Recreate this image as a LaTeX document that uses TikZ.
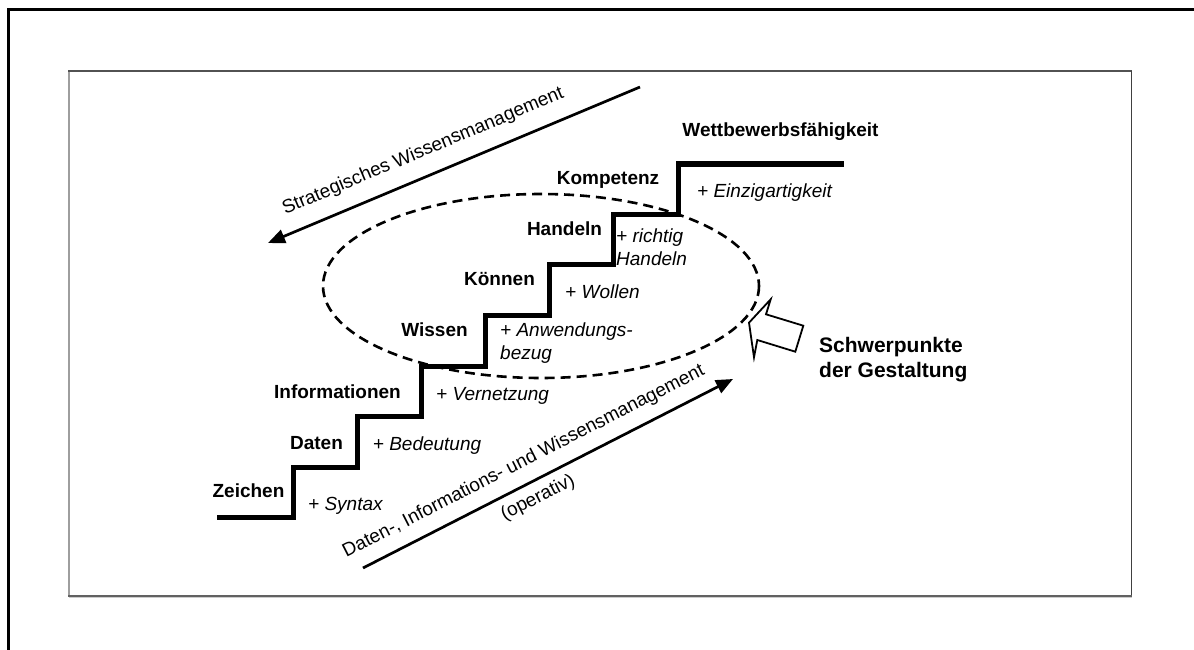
\documentclass[tikz,border=0pt]{standalone}
\usepackage{fontspec}
\setmainfont{Liberation Sans}
\usetikzlibrary{arrows.meta}

\begin{document}
\begin{tikzpicture}[x=1pt,y=-1pt,
  stair/.style={line width=5pt, line join=miter},
  flow/.style={line width=2.7pt, -{Triangle[length=17pt,width=14pt]}},
  level/.style={font=\fontsize{19}{23}\selectfont\bfseries, anchor=base, inner sep=0pt},
  gain/.style={font=\fontsize{19}{23}\selectfont\itshape, anchor=base west, inner sep=0pt},
  flowtext/.style={font=\fontsize{19}{23}\selectfont, inner sep=0pt},
  focus/.style={font=\fontsize{21}{25}\selectfont\bfseries, anchor=base west, inner sep=0pt},
  zone/.style={line width=2.6pt, dash pattern=on 10pt off 6pt},
  pointer/.style={line width=1.8pt, fill=white, line join=miter}
]
\useasboundingbox (0,0) rectangle (1194,650);

% outer frame (only left and top edges fall inside the page)
\draw[line width=3pt] (8.5,650) -- (8.5,9.3) -- (1194,9.3);

% inner panel with shaded edges
\draw[line width=2pt, color=black!38] (68.7,71) -- (68.7,596);
\draw[line width=1.5pt, color=black!68] (68,71) -- (1131.5,71);
\draw[line width=1.5pt, color=black!75] (1131.5,71) -- (1131.5,596);
\draw[line width=1.5pt, color=black!20] (69,597.6) -- (1132,597.6);
\draw[line width=1.3pt, color=black!62] (68,595.9) -- (1132.2,595.9);

% focus zone
\draw[zone] (541,286) ellipse [x radius=218, y radius=92];

% staircase
\draw[stair] (217,517) -- (293,517) -- (293,467) -- (357,467) -- (357,416)
  -- (421,416) -- (421,366) -- (485,366) -- (485,315) -- (549,315)
  -- (549,264) -- (613,264) -- (613,214) -- (678,214) -- (678,164) -- (844,164);

% step names
\node[level] (zeichen) at (248.5,497) {Zeichen};
\node[level] (daten) at (316.5,449) {Daten};
\node[level] (info) at (337.5,398) {Informationen};
\node[level] (wissen) at (434.5,336) {Wissen};
\node[level] (koennen) at (499.5,285) {Können};
\node[level] (handeln) at (564.5,235) {Handeln};
\node[level] (kompetenz) at (608,184) {Kompetenz};
\node[level] (wettbewerb) at (780.5,137) {Wettbewerbsfähigkeit};

% what each step adds
\node[gain] (syntax) at (308,510) {+ Syntax};
\node[gain] (bedeutung) at (372.7,450) {+ Bedeutung};
\node[gain] (vernetzung) at (436,400) {+ Vernetzung};
\node[gain] (anwendung) at (500,336) {\begin{tabular}[t]{@{}l@{}}+ Anwendungs-\\bezug\end{tabular}};
\node[gain] (wollen) at (565,298) {+ Wollen};
\node[gain] (richtig) at (616,242) {\begin{tabular}[t]{@{}l@{}}+ richtig\\Handeln\end{tabular}};
\node[gain] (einzig) at (697,197) {+ Einzigartigkeit};

% management arrows
\coordinate (strA) at (640,87);
\coordinate (strB) at (268,243);
\draw[flow] (strA) -- (strB);
\node[flowtext, anchor=base, rotate=22.75] (strtext) at (425,156) {Strategisches Wissensmanagement};

\coordinate (opA) at (363,568);
\coordinate (opB) at (733,379);
\draw[flow] (opA) -- (opB);
\node[flowtext, anchor=base, rotate=27.06] (optext) at (526,466) {Daten-, Informations- und Wissensmanagement};
\node[flowtext, rotate=27.06] (opsub) at (538,498) {(operativ)};

% hollow pointer towards the focus zone
\draw[pointer] (749,322.7) -- (770.7,299.3) -- (766,314.3) -- (803.3,325.7)
  -- (795.3,351.7) -- (757.3,340) -- (754,357.3) -- cycle;
\node[focus] (schwer) at (819,352) {\begin{tabular}[t]{@{}l@{}}Schwerpunkte\\der Gestaltung\end{tabular}};

\end{tikzpicture}
\end{document}
